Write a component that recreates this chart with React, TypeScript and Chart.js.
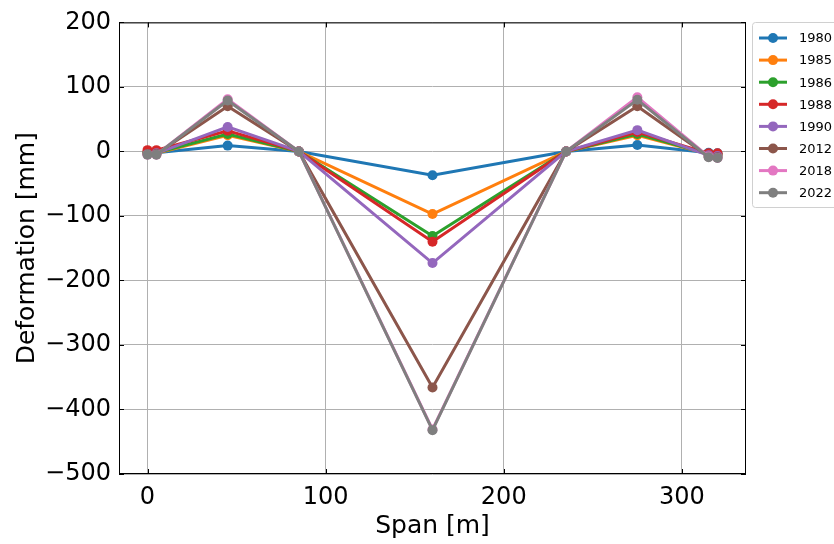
import React, { useEffect, useRef } from "react";
import { Chart, registerables } from "chart.js";

Chart.register(...registerables);

// Measurement stations along the span [m]
const spanPositions = [0, 5, 45, 85, 160, 235, 275, 315, 320];

// Deformation per survey year [mm]
const years = ["1980", "1985", "1986", "1988", "1990", "2012", "2018", "2022"];
const def1980 = [-2, -2, 9, 0, -37, 0, 10, -2, -3];
const def1985 = [-3, -3, 25, 0, -97, 0, 25, -4, -5];
const def1986 = [-2, -2, 27, 0, -131, 0, 27, -4, -5];
const def1988 = [2, 2, 32, 0, -140, 0, 30, -3, -3];
const def1990 = [-4, -3, 38, 0, -173, 0, 33, -6, -7];
const def2012 = [-4, -4, 70, 0, -366, 0, 70, -8, -9];
const def2018 = [-5, -5, 81, 0, -431, 0, 84, -8, -10];
const def2022 = [-5, -5, 79, 0, -432, 0, 80, -9, -10];
const seriesValues = [def1980, def1985, def1986, def1988, def1990, def2012, def2018, def2022];

const colors = ["#1f77b4", "#ff7f0e", "#2ca02c", "#d62728", "#9467bd", "#8c564b", "#e377c2", "#7f7f7f"];

const xTicks = [0, 100, 200, 300];
const FONT = "'DejaVu Sans', sans-serif";

const minusSign = (v: number | string) => String(v).replace("-", "\u2212");

// Inward tick marks, plot frame and legend box
const decorations = {
  id: "decorations",
  afterDraw(chart: any) {
    const { ctx, chartArea: a, scales } = chart;
    ctx.save();
    ctx.strokeStyle = "#000";
    ctx.lineWidth = 1;
    ctx.strokeRect(a.left + 0.5, a.top + 0.5, a.right - a.left - 1, a.bottom - a.top - 1);
    ctx.beginPath();
    scales.y.ticks.forEach((t: any) => {
      const y = Math.round(scales.y.getPixelForValue(t.value)) + 0.5;
      ctx.moveTo(a.left, y);
      ctx.lineTo(a.left + 5, y);
      ctx.moveTo(a.right, y);
      ctx.lineTo(a.right - 5, y);
    });
    scales.x.ticks.forEach((t: any) => {
      const x = Math.round(scales.x.getPixelForValue(t.value)) + 0.5;
      ctx.moveTo(x, a.bottom);
      ctx.lineTo(x, a.bottom - 5);
      ctx.moveTo(x, a.top);
      ctx.lineTo(x, a.top + 5);
    });
    ctx.stroke();

    // legend
    const lx = 752, ly = 22, lw = 90, lh = 185, rowH = 22.1;
    ctx.fillStyle = "rgba(255,255,255,0.85)";
    ctx.strokeStyle = "#d0d0d0";
    ctx.beginPath();
    ctx.roundRect(lx + 0.5, ly + 0.5, lw, lh, 3);
    ctx.fill();
    ctx.stroke();
    ctx.font = `13px ${FONT}`;
    ctx.textBaseline = "middle";
    ctx.textAlign = "left";
    years.forEach((yr, i) => {
      const y = ly + 16 + i * rowH;
      ctx.strokeStyle = colors[i];
      ctx.lineWidth = 3;
      ctx.beginPath();
      ctx.moveTo(759, y);
      ctx.lineTo(787, y);
      ctx.stroke();
      ctx.fillStyle = colors[i];
      ctx.beginPath();
      ctx.arc(773, y, 5, 0, Math.PI * 2);
      ctx.fill();
      ctx.fillStyle = "#000";
      ctx.fillText(yr, 799, y + 1);
    });
    ctx.restore();
  },
};

export default function App() {
  const ref = useRef<HTMLCanvasElement>(null);

  useEffect(() => {
    if (!ref.current) return;
    const datasets = years.map((yr, i) => ({
      label: yr,
      data: spanPositions.map((x, j) => ({ x, y: seriesValues[i][j] })),
      borderColor: colors[i],
      backgroundColor: colors[i],
      borderWidth: 3,
      pointRadius: 5,
      pointBorderWidth: 0,
      pointHoverRadius: 5,
      order: years.length - i,
      tension: 0,
    }));

    const chart = new Chart(ref.current, {
      type: "line",
      data: { datasets },
      plugins: [decorations],
      options: {
        animation: false,
        responsive: false,
        maintainAspectRatio: false,
        layout: { padding: { left: 0, right: 88, top: 20, bottom: 0 } },
        plugins: { legend: { display: false }, tooltip: { enabled: false } },
        scales: {
          x: {
            type: "linear",
            min: -16,
            max: 336,
            afterBuildTicks: (s: any) => {
              s.ticks = xTicks.map((v) => ({ value: v }));
            },
            afterFit: (s: any) => {
              s.height = 70;
            },
            border: { display: false },
            grid: { color: "#b0b0b0", lineWidth: 1, drawTicks: false },
            ticks: {
              color: "#000",
              padding: 9,
              font: { family: FONT, size: 24 },
              callback: (v: any) => minusSign(v),
            },
            title: {
              display: true,
              text: "Span [m]",
              color: "#000",
              font: { family: FONT, size: 25 },
              padding: { top: 0, bottom: 3 },
            },
          },
          y: {
            type: "linear",
            min: -500,
            max: 200,
            afterFit: (s: any) => {
              s.width = 119;
            },
            border: { display: false },
            grid: { color: "#b0b0b0", lineWidth: 1, drawTicks: false },
            ticks: {
              stepSize: 100,
              color: "#000",
              padding: 8,
              font: { family: FONT, size: 24 },
              callback: (v: any) => minusSign(v),
            },
            title: {
              display: true,
              text: "Deformation [mm]",
              color: "#000",
              font: { family: FONT, size: 25 },
              padding: { top: 12, bottom: 0 },
            },
          },
        },
      },
    });
    return () => chart.destroy();
  }, []);

  return (
    <div style={{ position: "fixed", left: 0, top: 0, width: 834, height: 544, background: "#fff" }}>
      <canvas ref={ref} width={834} height={544} style={{ width: 834, height: 544 }} />
    </div>
  );
}
